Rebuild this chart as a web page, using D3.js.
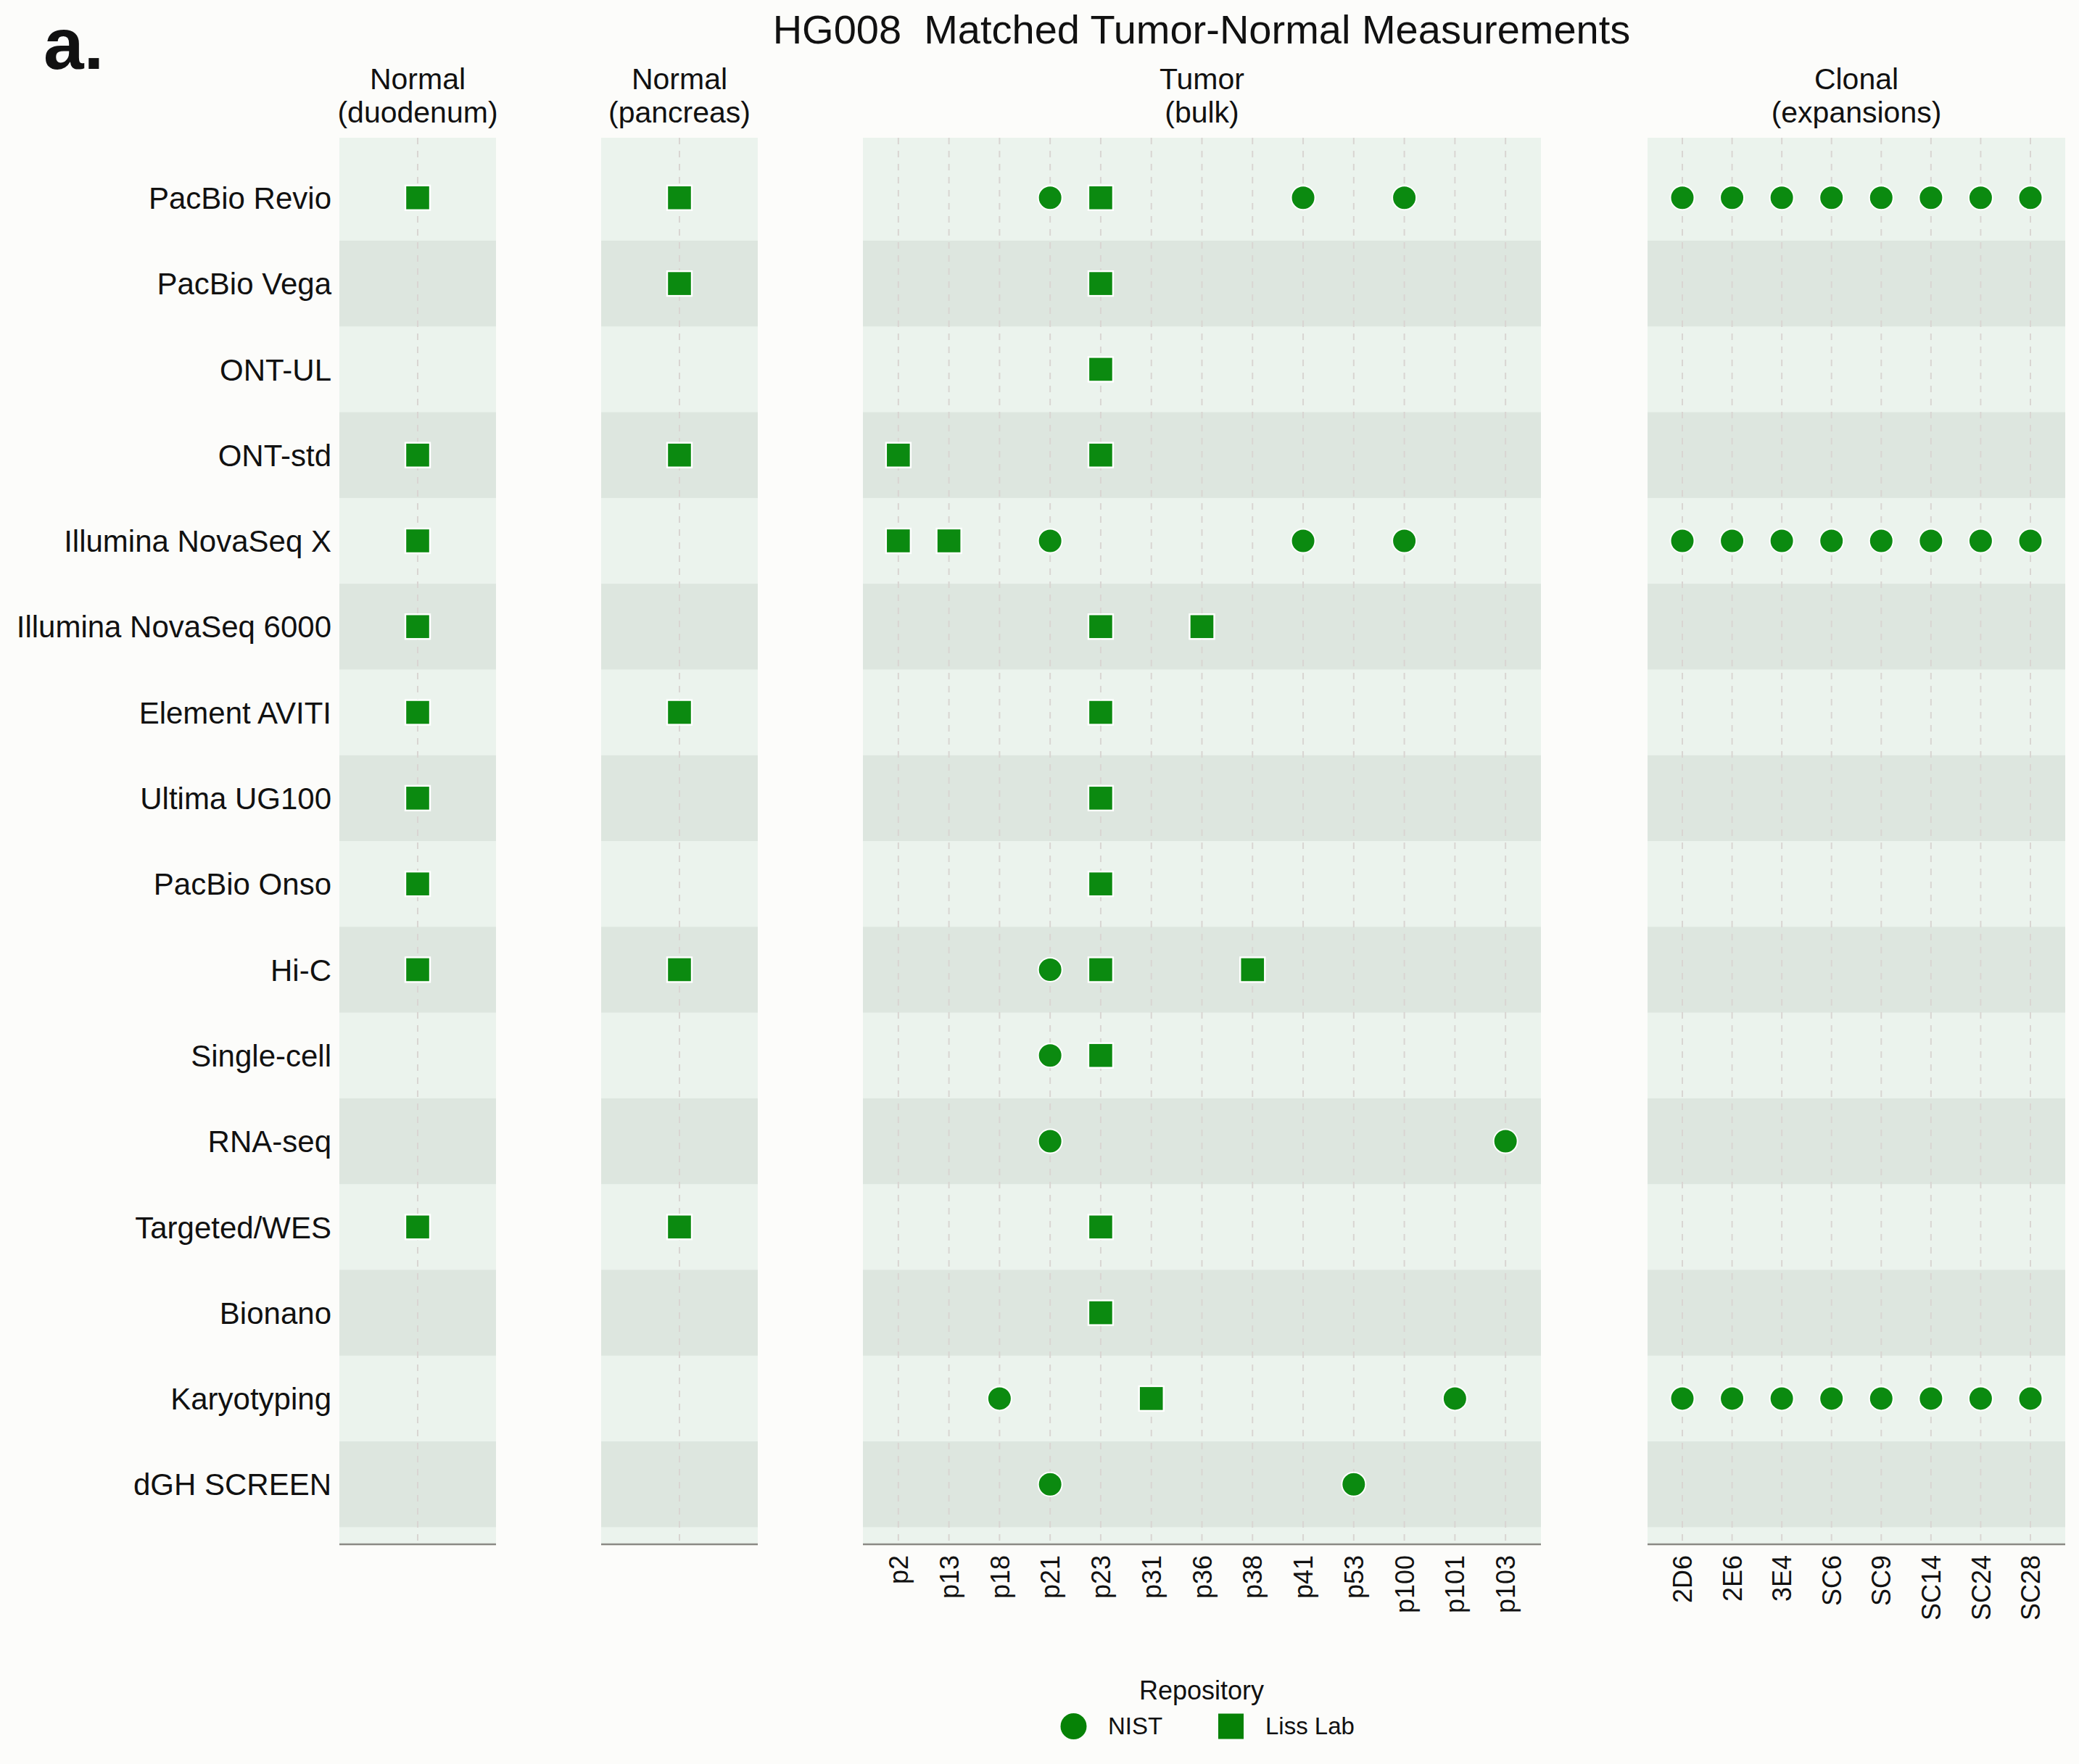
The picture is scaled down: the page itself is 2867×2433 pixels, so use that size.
<!DOCTYPE html>
<html>
<head>
<meta charset="utf-8">
<script src="https://cdn.jsdelivr.net/npm/d3@7"></script>
<style>
  body { margin: 0; background: #fcfcfa; }
  text { font-family: "Liberation Sans", Arial, Helvetica, sans-serif; fill: #111; }
</style>
</head>
<body>
<div id="chart-container"></div>
<script>
// Rows (sequencing / measurement platforms), top to bottom
const platforms = [
  'PacBio Revio', 'PacBio Vega', 'ONT-UL', 'ONT-std', 'Illumina NovaSeq X',
  'Illumina NovaSeq 6000', 'Element AVITI', 'Ultima UG100', 'PacBio Onso', 'Hi-C',
  'Single-cell', 'RNA-seq', 'Targeted/WES', 'Bionano', 'Karyotyping', 'dGH SCREEN'
];

// Samples in each facet
const duodenumSamples = ['duodenum'];
const pancreasSamples = ['pancreas'];
const tumorSamples = ['p2', 'p13', 'p18', 'p21', 'p23', 'p31', 'p36', 'p38', 'p41', 'p53', 'p100', 'p101', 'p103'];
const clonalSamples = ['2D6', '2E6', '3E4', 'SC6', 'SC9', 'SC14', 'SC24', 'SC28'];

const facetTitles = [
  ['Normal', '(duodenum)'],
  ['Normal', '(pancreas)'],
  ['Tumor', '(bulk)'],
  ['Clonal', '(expansions)']
];

// Measurements held by each repository: [platform, samples]
const nistData = [
  ['PacBio Revio', ['p21', 'p41', 'p100', ...clonalSamples]],
  ['Illumina NovaSeq X', ['p21', 'p41', 'p100', ...clonalSamples]],
  ['Hi-C', ['p21']],
  ['Single-cell', ['p21']],
  ['RNA-seq', ['p21', 'p103']],
  ['Karyotyping', ['p18', 'p101', ...clonalSamples]],
  ['dGH SCREEN', ['p21', 'p53']]
];
const lissData = [
  ['PacBio Revio', ['duodenum', 'pancreas', 'p23']],
  ['PacBio Vega', ['pancreas', 'p23']],
  ['ONT-UL', ['p23']],
  ['ONT-std', ['duodenum', 'pancreas', 'p2', 'p23']],
  ['Illumina NovaSeq X', ['duodenum', 'p2', 'p13']],
  ['Illumina NovaSeq 6000', ['duodenum', 'p23', 'p36']],
  ['Element AVITI', ['duodenum', 'pancreas', 'p23']],
  ['Ultima UG100', ['duodenum', 'p23']],
  ['PacBio Onso', ['duodenum', 'p23']],
  ['Hi-C', ['duodenum', 'pancreas', 'p23', 'p38']],
  ['Single-cell', ['p23']],
  ['Targeted/WES', ['duodenum', 'pancreas', 'p23']],
  ['Bionano', ['p23']],
  ['Karyotyping', ['p31']]
];

const legendItems = ['NIST', 'Liss Lab'];

// Dimensions
const width = 2867;
const height = 2433;
const plotTop = 190;
const plotBottom = 2130;
const green = '#0b8a10';

const svg = d3.select('#chart-container')
  .append('svg')
  .attr('width', width)
  .attr('height', height);

svg.append('rect').attr('width', width).attr('height', height).attr('fill', '#fcfcfa');

// Facets and their horizontal extents
const facets = [
  { samples: duodenumSamples, x0: 468, x1: 684, ticks: false },
  { samples: pancreasSamples, x0: 829, x1: 1045, ticks: false },
  { samples: tumorSamples, x0: 1190, x1: 2125, ticks: true },
  { samples: clonalSamples, x0: 2272, x1: 2848, ticks: true }
];
facets.forEach((f, i) => {
  f.title = facetTitles[i];
  f.x = d3.scalePoint().domain(f.samples).range([f.x0, f.x1]).padding(0.7);
});

const yScale = d3.scalePoint()
  .domain(platforms)
  .range([plotTop, plotBottom])
  .padding(0.7);
const step = yScale.step();

// Flatten the repository tables into points
const points = [];
nistData.forEach(([p, ss]) => ss.forEach((s) => points.push({ platform: p, sample: s, repo: 'NIST' })));
lissData.forEach(([p, ss]) => ss.forEach((s) => points.push({ platform: p, sample: s, repo: 'Liss Lab' })));

facets.forEach((f) => {
  const g = svg.append('g');

  // panel background
  g.append('rect')
    .attr('x', f.x0).attr('y', plotTop)
    .attr('width', f.x1 - f.x0).attr('height', plotBottom - plotTop)
    .attr('fill', '#ebf3ed');

  // alternating row bands
  g.selectAll('rect.band')
    .data(platforms.filter((d, i) => i % 2 === 1))
    .enter()
    .append('rect')
    .attr('class', 'band')
    .attr('x', f.x0)
    .attr('y', (d) => yScale(d) - step / 2)
    .attr('width', f.x1 - f.x0)
    .attr('height', step)
    .attr('fill', '#dde6df');

  // dashed vertical grid
  g.selectAll('line.grid')
    .data(f.samples)
    .enter()
    .append('line')
    .attr('class', 'grid')
    .attr('x1', (d) => f.x(d)).attr('x2', (d) => f.x(d))
    .attr('y1', plotTop).attr('y2', plotBottom)
    .attr('stroke', '#d9d5d2')
    .attr('stroke-width', 2)
    .attr('stroke-dasharray', '9,9');

  // facet strip title
  g.append('text')
    .attr('x', (f.x0 + f.x1) / 2)
    .attr('y', 123)
    .attr('text-anchor', 'middle')
    .attr('font-size', 41)
    .selectAll('tspan')
    .data(f.title)
    .enter()
    .append('tspan')
    .attr('x', (f.x0 + f.x1) / 2)
    .attr('dy', (d, i) => (i === 0 ? 0 : 45.5))
    .text((d) => d);

  // points
  const pts = points.filter((p) => f.samples.includes(p.sample));
  g.selectAll('circle.nist')
    .data(pts.filter((p) => p.repo === 'NIST'))
    .enter()
    .append('circle')
    .attr('class', 'nist')
    .attr('cx', (d) => f.x(d.sample))
    .attr('cy', (d) => yScale(d.platform))
    .attr('r', 16.5)
    .attr('fill', green)
    .attr('stroke', '#fff')
    .attr('stroke-width', 2);
  g.selectAll('rect.liss')
    .data(pts.filter((p) => p.repo === 'Liss Lab'))
    .enter()
    .append('rect')
    .attr('class', 'liss')
    .attr('x', (d) => f.x(d.sample) - 17)
    .attr('y', (d) => yScale(d.platform) - 17)
    .attr('width', 34)
    .attr('height', 34)
    .attr('fill', green)
    .attr('stroke', '#fff')
    .attr('stroke-width', 2.4);

  // x axis
  const axis = d3.axisBottom(f.x).tickSize(0).tickPadding(0);
  const ag = svg.append('g')
    .attr('transform', `translate(0,${plotBottom})`)
    .call(axis);
  ag.select('.domain')
    .attr('d', `M${f.x0},0H${f.x1}`)
    .attr('stroke', '#8a8a85')
    .attr('stroke-width', 2.5);
  if (f.ticks) {
    ag.selectAll('.tick text')
      .attr('font-size', 36)
      .attr('fill', '#111')
      .attr('font-family', '"Liberation Sans", Arial, sans-serif')
      .attr('transform', 'translate(0,15) rotate(-90)')
      .attr('text-anchor', 'end')
      .attr('dy', '0.35em')
      .attr('x', 0)
      .attr('y', 0);
  } else {
    ag.selectAll('.tick').remove();
  }
});

// y axis labels
const yAxis = d3.axisLeft(yScale).tickSize(0).tickPadding(0);
const yg = svg.append('g')
  .attr('transform', 'translate(457,0)')
  .call(yAxis);
yg.select('.domain').remove();
yg.selectAll('.tick text')
  .attr('font-size', 42)
  .attr('fill', '#111')
  .attr('font-family', '"Liberation Sans", Arial, sans-serif')
  .attr('x', 0)
  .attr('dy', '0.35em');

// title (keeps the double space)
svg.append('text')
  .attr('x', 1657)
  .attr('y', 60)
  .attr('text-anchor', 'middle')
  .attr('font-size', 56)
  .style('white-space', 'pre')
  .text('HG008  Matched Tumor-Normal Measurements');

// panel letter
svg.append('text')
  .attr('x', 60)
  .attr('y', 95)
  .attr('font-size', 100)
  .attr('font-weight', 'bold')
  .text('a.');

// legend
svg.append('text')
  .attr('x', 1657)
  .attr('y', 2344)
  .attr('text-anchor', 'middle')
  .attr('font-size', 36)
  .text('Repository');

const legend = svg.append('g').attr('transform', 'translate(0,2381)');
legend.append('circle')
  .attr('cx', 1480.5).attr('cy', 0).attr('r', 18)
  .attr('fill', '#068206');
legend.append('rect')
  .attr('x', 1680).attr('y', -17.5).attr('width', 35).attr('height', 35)
  .attr('fill', '#068206');
legend.selectAll('text.lab')
  .data(legendItems)
  .enter()
  .append('text')
  .attr('class', 'lab')
  .attr('x', (d, i) => (i === 0 ? 1528 : 1745))
  .attr('y', 11)
  .attr('font-size', 33)
  .text((d) => d);
</script>
</body>
</html>
